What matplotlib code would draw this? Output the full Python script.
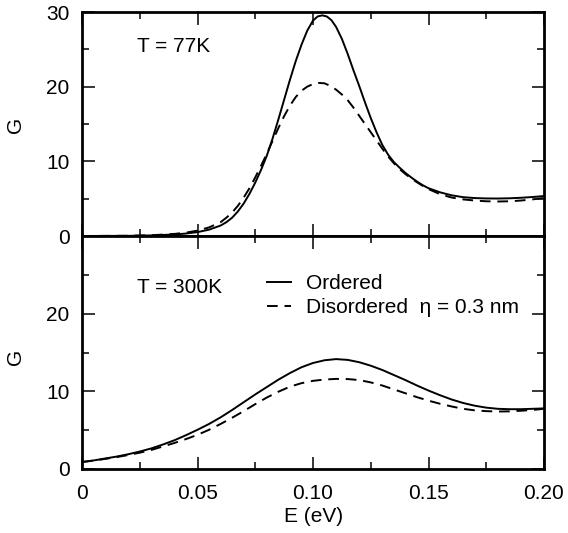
import matplotlib
matplotlib.use("Agg")
import matplotlib.pyplot as plt
from matplotlib.ticker import MultipleLocator, FixedLocator

plt.rcParams['font.family'] = ['Liberation Sans', 'DejaVu Sans']

# ---- data ----
E_top = [0.0, 0.02, 0.03, 0.04, 0.045, 0.05, 0.055, 0.06, 0.0625, 0.065, 0.0675,
         0.07, 0.0725, 0.075, 0.0775, 0.08, 0.0825, 0.085, 0.0875, 0.09, 0.0925,
         0.095, 0.0975, 0.1, 0.102, 0.104, 0.106, 0.108, 0.11, 0.1125, 0.115,
         0.1175, 0.12, 0.1225, 0.125, 0.1275, 0.13, 0.1325, 0.135, 0.1375, 0.14,
         0.1425, 0.145, 0.1475, 0.15, 0.155, 0.16, 0.165, 0.17, 0.175, 0.18,
         0.185, 0.19, 0.195, 0.2]
G77_ordered = [0.0, 0.02, 0.08, 0.2, 0.33, 0.52, 0.85, 1.4, 1.85, 2.45, 3.3,
               4.35, 5.65, 7.15, 8.85, 10.75, 13.05, 15.6, 18.25, 20.9, 23.4,
               25.6, 27.5, 28.85, 29.4, 29.55, 29.4, 28.9, 28.0, 26.4, 24.4,
               22.2, 20.1, 17.9, 15.8, 13.9, 12.2, 10.9, 9.9, 9.15, 8.45,
               7.85, 7.3, 6.8, 6.4, 5.85, 5.45, 5.2, 5.08, 5.03, 5.02,
               5.05, 5.12, 5.22, 5.35]

E_top_d = [0.0, 0.02, 0.03, 0.04, 0.045, 0.05, 0.055, 0.06, 0.0625, 0.065, 0.0675,
           0.07, 0.0725, 0.075, 0.0775, 0.08, 0.0825, 0.085, 0.0875, 0.09, 0.0925,
           0.095, 0.0975, 0.1, 0.1025, 0.105, 0.1075, 0.11, 0.1125, 0.115, 0.1175,
           0.12, 0.1225, 0.125, 0.1275, 0.13, 0.1325, 0.135, 0.1375, 0.14, 0.1425,
           0.145, 0.1475, 0.15, 0.155, 0.16, 0.165, 0.17, 0.175, 0.18, 0.185,
           0.19, 0.195, 0.2]
G77_disordered = [0.0, 0.03, 0.1, 0.28, 0.45, 0.72, 1.15, 1.85, 2.45, 3.15, 4.05,
                  5.15, 6.4, 7.85, 9.4, 11.0, 12.75, 14.45, 16.05, 17.45, 18.6,
                  19.45, 20.0, 20.35, 20.5, 20.45, 20.1, 19.6, 18.95, 18.2, 17.2,
                  16.1, 15.0, 13.9, 12.8, 11.7, 10.65, 9.75, 8.95, 8.3, 7.72,
                  7.2, 6.72, 6.28, 5.6, 5.15, 4.9, 4.75, 4.65, 4.62, 4.65,
                  4.75, 4.9, 5.1]

E_bot = [0.0, 0.005, 0.01, 0.015, 0.02, 0.025, 0.03, 0.035, 0.04, 0.045, 0.05,
         0.055, 0.06, 0.065, 0.07, 0.075, 0.08, 0.085, 0.09, 0.095, 0.1, 0.105,
         0.11, 0.115, 0.12, 0.125, 0.13, 0.135, 0.14, 0.145, 0.15, 0.155, 0.16,
         0.165, 0.17, 0.175, 0.18, 0.185, 0.19, 0.195, 0.2]
G300_ordered = [0.9, 1.1, 1.35, 1.6, 1.9, 2.25, 2.65, 3.15, 3.7, 4.35, 5.05,
                5.8, 6.65, 7.6, 8.6, 9.6, 10.55, 11.5, 12.35, 13.1, 13.65, 14.0,
                14.15, 14.05, 13.75, 13.3, 12.75, 12.1, 11.45, 10.75, 10.1, 9.5, 8.95,
                8.5, 8.15, 7.9, 7.75, 7.7, 7.7, 7.75, 7.8]
G300_disordered = [0.9, 1.08, 1.3, 1.53, 1.8, 2.1, 2.45, 2.9, 3.35, 3.85, 4.4,
                   5.05, 5.8, 6.6, 7.45, 8.35, 9.2, 9.95, 10.6, 11.05, 11.35, 11.52,
                   11.6, 11.58, 11.45, 11.15, 10.75, 10.25, 9.75, 9.25, 8.8, 8.4, 8.05,
                   7.75, 7.55, 7.45, 7.4, 7.42, 7.5, 7.6, 7.75]

x_ticks = [0, 0.05, 0.10, 0.15, 0.20]
x_tick_labels = ['0', '0.05', '0.10', '0.15', '0.20']
y_ticks_top = [0, 10, 20, 30]
y_ticks_bot = [0, 10, 20]

FS = 15
dash = (0, (5.5, 3.5))
LW = 1.4

fig = plt.figure(figsize=(5.68, 5.33), dpi=100)
L, R = 82 / 568, 544 / 568
H = 533
ax1 = fig.add_axes([L, 1 - 236 / H, R - L, (236 - 12) / H])
ax2 = fig.add_axes([L, 1 - 469 / H, R - L, (469 - 236) / H])

kw = dict(color='black', lw=LW, solid_joinstyle='round', dash_joinstyle='round')
ax1.plot(E_top, G77_ordered, **kw)
ax1.plot(E_top_d, G77_disordered, linestyle=dash, **kw)
ax2.plot(E_bot, G300_ordered, label='Ordered', **kw)
ax2.plot(E_bot, G300_disordered, linestyle=dash,
         label='Disordered  η = 0.3 nm', **kw)

for ax, yt in ((ax1, y_ticks_top), (ax2, y_ticks_bot)):
    ax.set_xlim(0, 0.2)
    ax.set_ylim(0, 30)
    ax.xaxis.set_major_locator(FixedLocator(x_ticks))
    ax.xaxis.set_minor_locator(MultipleLocator(0.025))
    ax.yaxis.set_major_locator(FixedLocator(yt))
    ax.yaxis.set_minor_locator(MultipleLocator(5))
    ax.tick_params(which='both', direction='in', top=True, right=True,
                   labelsize=FS, width=1.1)
    ax.tick_params(which='major', length=9)
    ax.tick_params(which='minor', length=5)
    ax.tick_params(axis='y', pad=9)
    ax.tick_params(axis='x', pad=11)
    for s in ax.spines.values():
        s.set_linewidth(2.0)

ax1.set_xticklabels([])
ax2.set_xticklabels(x_tick_labels)

ax1.text(0.119, 0.844, 'T = 77K', transform=ax1.transAxes, fontsize=FS,
         va='center', ha='left')
ax2.text(0.119, 0.781, 'T = 300K', transform=ax2.transAxes, fontsize=FS,
         va='center', ha='left')

ax2.legend(loc='center left', bbox_to_anchor=(0.40, 0.743), frameon=False,
           fontsize=FS, handlelength=1.15, handletextpad=0.75,
           labelspacing=0.25, borderpad=0, borderaxespad=0)

fig.text(15 / 568, 1 - 125 / H, 'G', rotation=90, fontsize=FS, va='center', ha='center')
fig.text(15 / 568, 1 - 357 / H, 'G', rotation=90, fontsize=FS, va='center', ha='center')
fig.text(314 / 568, 1 - 517 / H, 'E (eV)', fontsize=FS, va='center', ha='center')

fig.savefig('out.png', dpi=100)
